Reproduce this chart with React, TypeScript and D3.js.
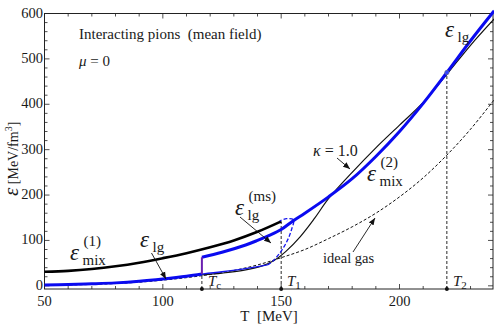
import React from "react";
import * as d3 from "d3";

// energy density of interacting pions, T in MeV, eps in MeV/fm^3
const xTickVals = [50, 100, 150, 200];
const yTickVals = [0, 100, 200, 300, 400, 500, 600];

const Tc = 116.5;
const T1 = 150;
const T2 = 220;

const mixOne: [number, number][] = [
  [50, 31], [60, 33], [70, 37], [80, 43], [90, 51], [100, 61], [110, 72],
  [120, 85], [130, 100], [140, 119], [150, 142],
];
const lgLow: [number, number][] = [
  [50, 2], [60, 3], [70, 4.5], [80, 6.5], [90, 10], [100, 15], [110, 21], [116.5, 26],
];
const lgHigh: [number, number][] = [
  [116.5, 63], [125, 74], [135, 90], [140, 100], [145, 111], [150, 124], [155, 143],
  [160, 160], [170, 196], [180, 236], [190, 285], [200, 340], [210, 402],
  [220, 470], [230, 540], [240, 606],
];
const lgBranch: [number, number][] = [
  [116.5, 26], [125, 31], [135, 38], [144.2, 46],
];
const lgLoop: [number, number][] = [
  [144.2, 46], [146.4, 54], [148.8, 68], [151.3, 87], [153.4, 109], [154.8, 131],
  [155.3, 140], [155.1, 146], [152.3, 148], [149.4, 143],
];
const kappaOne: [number, number][] = [
  [116.5, 24], [125, 28], [135, 35], [142, 44], [147, 56], [152, 76], [158, 108],
  [164, 148], [170, 192], [180, 250], [190, 304], [200, 354], [210, 404],
  [220, 466], [230, 530], [240, 588],
];
const idealGas: [number, number][] = [
  [50, 1], [60, 1.8], [70, 3], [80, 5], [90, 8], [100, 12.5], [110, 18], [120, 25],
  [130, 34], [140, 46], [150, 62], [160, 80], [170, 104], [180, 130], [190, 160],
  [200, 196], [210, 238], [220, 288], [230, 345], [240, 410],
];

const serif = "Liberation Serif";
const ink = "#1a1a1a";

const x = d3.scaleLinear().domain([50, 239.5]).range([44.5, 493]);
const y = d3.scaleLinear().domain([-7, 600]).range([289, 13.5]);

const line = d3
  .line<[number, number]>()
  .x((d) => x(d[0]))
  .y((d) => y(d[1]))
  .curve(d3.curveCatmullRom.alpha(0.5));

function Eps({ px, py, sub, sup }: { px: number; py: number; sub: string; sup?: string }) {
  return (
    <g style={{ fontFamily: serif }} fill={ink}>
      <text x={px} y={py} fontSize={23} fontStyle="italic">ε</text>
      <text x={px + 12.5} y={py + 5} fontSize={15}>{sub}</text>
      {sup && <text x={px + 13.5} y={py - 14} fontSize={15}>{sup}</text>}
    </g>
  );
}

function Arrow({ x1, y1, x2, y2 }: { x1: number; y1: number; x2: number; y2: number }) {
  return (
    <line x1={x1} y1={y1} x2={x2} y2={y2} stroke="#111" strokeWidth={0.9} markerEnd="url(#head)" />
  );
}

function Tlabel({ px, sub }: { px: number; sub: string }) {
  return (
    <text x={px} y={286} style={{ fontFamily: serif }} fontSize={15} fill={ink}>
      <tspan fontStyle="italic">T</tspan>
      <tspan fontSize={11} dy={3}>{sub}</tspan>
    </text>
  );
}

export default function App() {
  const [x0, x1] = x.range();
  const [y0, y1] = y.range();
  const minorX = d3.range(60, 240, 10).filter((t) => t % 50 !== 0);
  const minorY = d3.range(20, 600, 20).filter((v) => v % 100 !== 0);

  return (
    <svg
      width={494}
      height={325}
      style={{ position: "absolute", left: 0, top: 0, background: "#fff", fontFamily: serif }}
    >
      <defs>
        <marker id="head" viewBox="0 0 10 10" refX="10" refY="5" markerWidth="7" markerHeight="7" orient="auto" markerUnits="userSpaceOnUse">
          <path d="M0,1 L10,5 L0,9 z" fill="#111" />
        </marker>
      </defs>

      {/* frame */}
      <rect x={x0} y={y1} width={x1 - x0} height={y0 - y1} fill="none" stroke="#222" strokeWidth={1} />

      {/* ticks */}
      <g stroke="#222" strokeWidth={0.8}>
        {xTickVals.map((t) => (
          <g key={"xt" + t}>
            <line x1={x(t)} x2={x(t)} y1={y0} y2={y0 - 5} />
            <line x1={x(t)} x2={x(t)} y1={y1} y2={y1 + 5} />
          </g>
        ))}
        {minorX.map((t) => (
          <g key={"xm" + t}>
            <line x1={x(t)} x2={x(t)} y1={y0} y2={y0 - 3} />
            <line x1={x(t)} x2={x(t)} y1={y1} y2={y1 + 3} />
          </g>
        ))}
        {yTickVals.map((v) => (
          <g key={"yt" + v}>
            <line x1={x0} x2={x0 + 5} y1={y(v)} y2={y(v)} />
            <line x1={x1} x2={x1 - 5} y1={y(v)} y2={y(v)} />
          </g>
        ))}
        {minorY.map((v) => (
          <g key={"ym" + v}>
            <line x1={x0} x2={x0 + 3} y1={y(v)} y2={y(v)} />
            <line x1={x1} x2={x1 - 3} y1={y(v)} y2={y(v)} />
          </g>
        ))}
      </g>

      {/* tick labels */}
      <g style={{ fontFamily: serif }} fontSize={14.5} fill={ink}>
        {xTickVals.map((t) => (
          <text key={"xl" + t} x={x(t)} y={306} textAnchor="middle">{t}</text>
        ))}
        {yTickVals.map((v) => (
          <text key={"yl" + v} x={x0 - 1.5} y={y(v) + 4} textAnchor="end">{v}</text>
        ))}
      </g>

      {/* axis titles */}
      <text x={269} y={321} textAnchor="middle" style={{ fontFamily: serif }} fontSize={15} fill={ink}>
        {"T\u00a0 [MeV]"}
      </text>
      <text transform="translate(18,196) rotate(-90)" style={{ fontFamily: serif }} fontSize={14} fill={ink}>
        <tspan fontStyle="italic" fontSize={21}>ε</tspan>
        <tspan> [MeV/fm</tspan>
        <tspan fontSize={10} dy={-6}>3</tspan>
        <tspan dy={6}>]</tspan>
      </text>

      {/* vertical guides */}
      <g stroke="#111" strokeWidth={0.9} strokeDasharray="3,2">
        <line x1={x(Tc)} x2={x(Tc)} y1={y0} y2={y(26)} />
        <line x1={x(T1)} x2={x(T1)} y1={y0} y2={y(142)} />
        <line x1={x(T2)} x2={x(T2)} y1={y0} y2={y(468)} />
      </g>

      {/* curves */}
      <path d={line(idealGas) ?? ""} fill="none" stroke="#111" strokeWidth={1} strokeDasharray="3,2" />
      <path d={line(kappaOne) ?? ""} fill="none" stroke="#111" strokeWidth={1.2} />
      <path d={line(mixOne) ?? ""} fill="none" stroke="#000" strokeWidth={2.6} />
      <path d={line(lgBranch) ?? ""} fill="none" stroke="#1515ee" strokeWidth={1.3} />
      <path d={line(lgLoop) ?? ""} fill="none" stroke="#1515ee" strokeWidth={1.3} strokeDasharray="4,2" />
      <path d={line(lgLow) ?? ""} fill="none" stroke="#0a0af0" strokeWidth={3} />
      <path d={line(lgHigh) ?? ""} fill="none" stroke="#0a0af0" strokeWidth={3} />
      <line x1={x(Tc)} x2={x(Tc)} y1={y(26)} y2={y(63)} stroke="#6a1fb0" strokeWidth={2} />

      {/* markers */}
      <circle cx={x(T2)} cy={y(470)} r={2.2} fill="#3344ff" stroke="#777" strokeWidth={0.6} />
      {[Tc, T1, T2].map((t) => (
        <circle key={"dot" + t} cx={x(t)} cy={y0} r={2} fill="#111" />
      ))}

      {/* annotations */}
      <g style={{ fontFamily: serif }} fill={ink}>
        <text x={79} y={39} fontSize={15}>{"Interacting pions\u00a0 (mean field)"}</text>
        <text x={79} y={66} fontSize={15}>
          <tspan fontStyle="italic">μ</tspan>
          <tspan>{"\u00a0= 0"}</tspan>
        </text>
        <text x={313} y={156} fontSize={16}>
          <tspan fontStyle="italic">κ</tspan>
          <tspan>{"\u00a0= 1.0"}</tspan>
        </text>
        <text x={323} y={263} fontSize={14.5}>ideal gas</text>
      </g>
      <Eps px={70} py={260} sub="mix" sup="(1)" />
      <Eps px={140} py={247} sub="lg" />
      <Eps px={235} py={215} sub="lg" sup="(ms)" />
      <Eps px={367} py={181} sub="mix" sup="(2)" />
      <Eps px={445} py={37} sub="lg" />

      <Arrow x1={151.5} y1={253} x2={166} y2={279} />
      <Arrow x1={240} y1={217} x2={271} y2={243} />
      <Arrow x1={337} y1={158} x2={350} y2={169} />
      <Arrow x1={353} y1={252} x2={375} y2={218} />

      <Tlabel px={208} sub="c" />
      <Tlabel px={287} sub="1" />
      <Tlabel px={453} sub="2" />
    </svg>
  );
}
